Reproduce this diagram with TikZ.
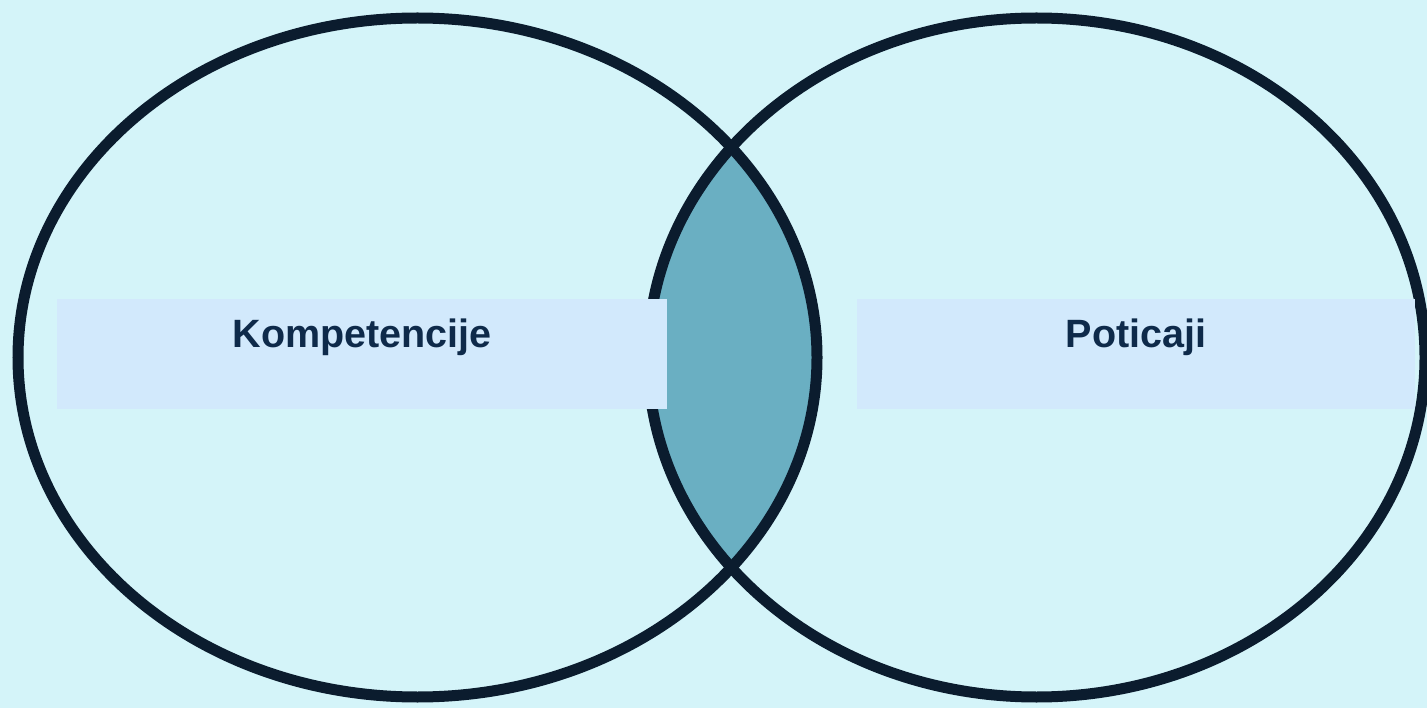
\documentclass[tikz,border=0pt]{standalone}
\usepackage{fontspec}
\setmainfont{Liberation Sans}
\definecolor{bgc}{HTML}{D4F4F9}
\definecolor{rectc}{HTML}{D2E9FC}
\definecolor{lensc}{HTML}{6AAFC2}
\definecolor{linec}{HTML}{0B1C2E}
\definecolor{textc}{HTML}{0E2A4A}
\begin{document}
\begin{tikzpicture}[x=1pt,y=-1pt,
  outline/.style={draw=linec,line width=11pt},
  band/.style={fill=rectc,inner sep=0pt,minimum height=110pt},
  label/.style={anchor=base,inner sep=0pt,text=textc,font=\fontsize{39.5}{46}\selectfont\bfseries}]
\fill[bgc] (0,0) rectangle (1427,708);
\useasboundingbox (0,0) rectangle (1427,708);
\coordinate (cl) at (417.5,357.5);
\coordinate (cr) at (1036.5,357.5);
\begin{scope}
  \clip (cl) ellipse [x radius=399.5pt, y radius=339.5pt];
  \fill[lensc] (cr) ellipse [x radius=388.5pt, y radius=339.5pt];
\end{scope}
\draw[outline] (cl) ellipse [x radius=399.5pt, y radius=339.5pt];
\draw[outline] (cr) ellipse [x radius=388.5pt, y radius=339.5pt];
\node[band,minimum width=610pt] (kompband) at (362,354) {};
\node[band,minimum width=558pt] (potband) at (1136,354) {};
\node[label] (komp) at (362,348) {Kompetencije};
\node[label] (pot) at (1136,348) {Poticaji};
\end{tikzpicture}
\end{document}
